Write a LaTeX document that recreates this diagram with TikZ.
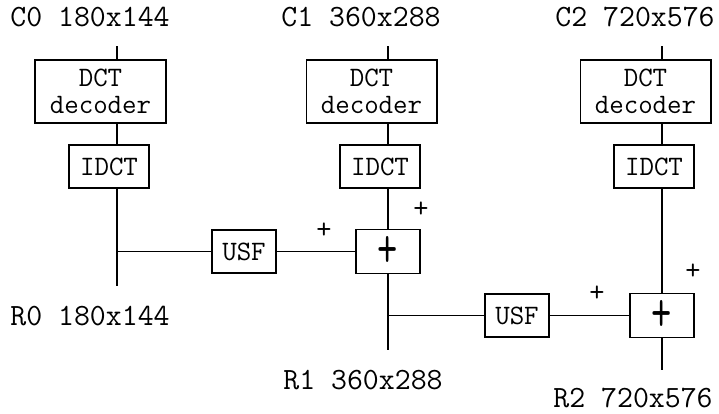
\documentclass[tikz,border=0pt]{standalone}
\usepackage{fontspec}
\tikzset{
    wire/.style={line width=1.4pt},
    block/.style={draw, wire, inner sep=0pt, outer sep=0pt, align=center,
        font=\ttfamily\fontsize{20}{19.5}\selectfont},
    decbox/.style={block, minimum width=3.25cm, minimum height=1.575cm},
    idctbox/.style={block, minimum width=2cm, minimum height=1.075cm},
    usfbox/.style={block, minimum width=1.6cm, minimum height=1.075cm},
    sumbox/.style={block, minimum width=1.6cm, minimum height=1.1cm,
        font=\ttfamily\fontsize{28}{28}\selectfont},
    sizelabel/.style={font=\ttfamily\fontsize{22}{22}\selectfont, inner sep=0pt},
    signlabel/.style={font=\ttfamily\fontsize{21}{21}\selectfont, inner sep=0pt}
}
\begin{document}
\begin{tikzpicture}[x=0.025cm, y=-0.025cm]
    \useasboundingbox (0,0) rectangle (719,414);
    % decoder columns
    \foreach \i/\x/\res in {0/117/180x144, 1/388/360x288, 2/662/720x576}{
        \node[sizelabel] (clbl\i) at (\x-27,17) {C\i\ \res};
        \coordinate (top\i) at (\x,46);
        \node[decbox] (dct\i) at (\x-16.5,91.5) {DCT\\decoder};
        \node[idctbox] (idct\i) at (\x-8,166.5) {IDCT};
        \draw[wire] (top\i) -- (top\i |- dct\i.north);
        \draw[wire] (dct\i.south -| top\i) -- (idct\i.north -| top\i);
    }
    % upsampling and sums
    \node[usfbox] (usf0) at (244,251.5) {USF};
    \node[sumbox] (add1) at (388,251.5) {\scalebox{1}[1.5]{+}};
    \node[usfbox] (usf1) at (517,315.5) {USF};
    \node[sumbox] (add2) at (662,315.5) {\scalebox{1}[1.5]{+}};
    \node[signlabel] (s1a) at (324,231) {+};
    \node[signlabel] (s1b) at (421,210) {+};
    \node[signlabel] (s2a) at (597,294) {+};
    \node[signlabel] (s2b) at (693,272) {+};
    \coordinate (r0end) at (117,286);
    \coordinate (r1end) at (388,350);
    \coordinate (r2end) at (662,370);
    \draw[wire] (idct0.south -| top0) -- (r0end);
    \draw[wire] (idct1.south -| top1) -- (add1);
    \draw[wire] (add1) -- (r1end);
    \draw[wire] (idct2.south -| top2) -- (add2);
    \draw[wire] (add2) -- (r2end);
    \draw[wire] (usf0.west -| top0) -- (usf0);
    \draw[wire] (usf0) -- (add1);
    \draw[wire] (usf1.west -| top1) -- (usf1);
    \draw[wire] (usf1) -- (add2);
    % outputs
    \node[sizelabel] (rlbl0) at (90,316) {R0 180x144};
    \node[sizelabel] (rlbl1) at (363,380) {R1 360x288};
    \node[sizelabel] (rlbl2) at (633,398) {R2 720x576};
\end{tikzpicture}
\end{document}
